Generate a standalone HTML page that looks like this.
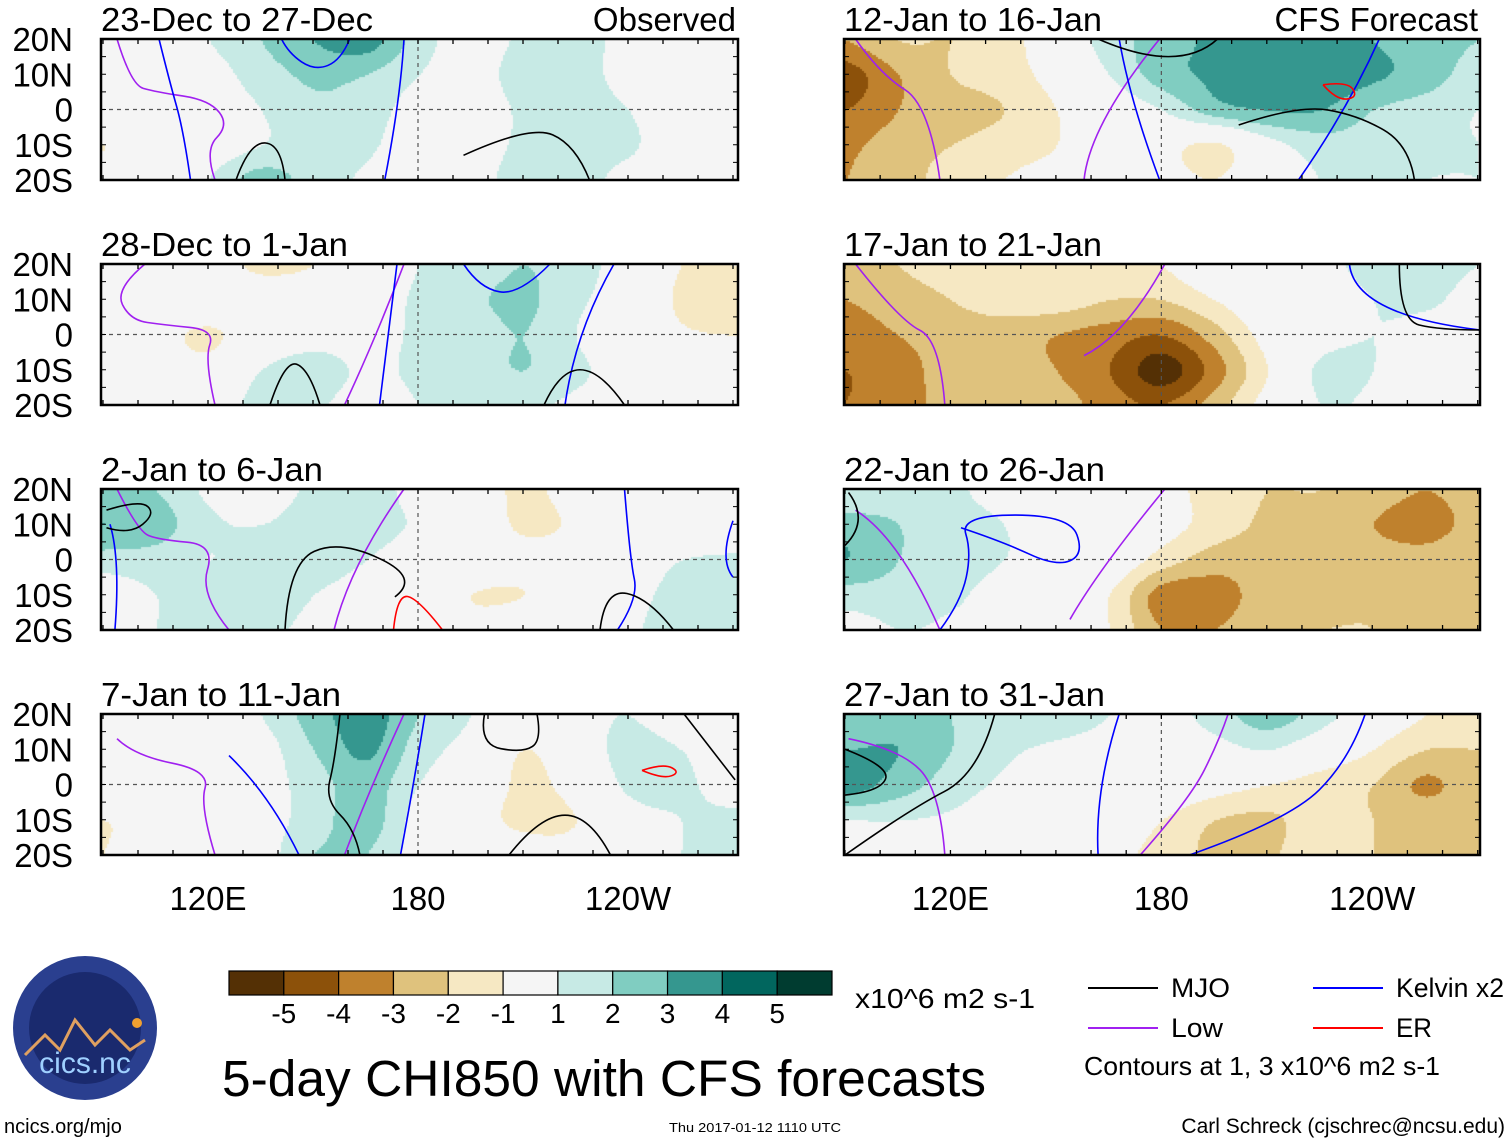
<!DOCTYPE html>
<html><head><meta charset="utf-8">
<style>
html,body{margin:0;padding:0;background:#fff;}
#wrap{position:relative;width:1510px;height:1142px;overflow:hidden;font-family:"Liberation Sans",sans-serif;}
canvas{position:absolute;}
svg{position:absolute;left:0;top:0;}
</style></head>
<body>
<div id="wrap">
<svg id="ov" width="1510" height="1142"></svg>
</div>
<script>
// ---- data ----
const lons=[90,105,120,135,150,165,180,195,210,225,240,255,270];
const lats=[20,10,0,-10,-20];
const titles=["23-Dec to 27-Dec","28-Dec to 1-Jan","2-Jan to 6-Jan","7-Jan to 11-Jan","12-Jan to 16-Jan","17-Jan to 21-Jan","22-Jan to 26-Jan","27-Jan to 31-Jan"];
const levels=[-5,-4,-3,-2,-1,1,2,3,4,5];
const levelLabels=["-5","-4","-3","-2","-1","1","2","3","4","5"];
const fieldP1=[[0,0.5,1,2,3,3.5,1.5,0.5,1.2,1.5,0.5,0,0],[0,0,0.5,1.5,2.2,2,1,0.5,1.5,1.5,0.5,0,0],[0,0,0.3,1,1.8,1.5,0.5,0.3,1.2,1.5,1,0,0],[-1,0,0.3,1,1.5,1.2,0.3,0.5,1.2,1.5,1.2,0,0],[-0.5,0,1,2.5,1.5,0.8,0,0.5,1.5,1.5,0.5,0,0]];
const fieldP2=[[0,0,-0.5,-1.2,-1,0,1,1.5,2,1.5,0.3,-1,-1],[0,0,0,-0.3,0,0.3,1.2,1.8,2.2,1.2,0.3,-1.2,-1.5],[0,-0.5,-1.2,0,0.5,0.5,1.2,1.5,2,1,0,-0.8,-1],[0,-0.3,-0.5,1,1.5,0.8,1.2,1.5,2,1.2,0.5,0,0],[0,0,0,1.5,1.2,0.5,1,1.2,1.2,0.8,0.5,0,0]];
const fieldP3=[[2,2,0.8,0.5,1.2,1.5,0.5,-0.3,-1.2,-0.5,0,0,0],[3,2.5,1.2,1,1.5,1.5,0.8,0,-1.2,-0.8,0,-0.5,0],[1.5,1.5,1,1.5,1.5,1,0.3,0,-0.5,-0.3,0,1,1.2],[0.3,1,1.5,1.5,1,0.5,0,-1,-1,0,0.5,1.5,1.5],[0,1,1.5,1.2,0.8,0.5,0,-0.5,0,0,0.8,1.5,1.2]];
const fieldP4=[[0,0,0.5,1,2.5,3.5,2,1,0,0.5,1,0,0],[0,0,0,0.5,2,3.2,1.5,0.5,-1,0,1.5,1,0],[0,-0.5,0,0.5,1.5,2.5,1,0,-1.2,-0.5,1.2,1.2,0.5],[-1,-0.5,0,0.5,1.5,2.5,0.5,-0.5,-1.2,-1,0.5,1,1.2],[-1,0,0,0.5,2,2,0.5,0,-0.5,-0.5,0.5,1,1]];
const fieldP5=[[-3,-2,-2,-1.5,0,1.5,2.5,3.2,3.5,3.5,3,2.5,2],[-4.5,-3,-2,-1.5,-0.5,1,2.5,3.2,3.5,3.8,3.2,2.5,1.5],[-4,-3,-2.5,-2,-1,0,1,2.5,3,3,2,1.5,1],[-3.2,-2.5,-2,-1.5,-1,0,-0.5,-1.2,0.5,1.5,1.5,1.2,1],[-3,-2.5,-1.5,-1,-0.5,0,-0.5,-1,0,1,1.2,1,1]];
const fieldP6=[[-2.5,-2,-1.5,-1,-1.5,-1.5,-1,0,0,0.5,1.5,1.5,1],[-3,-2.5,-2,-1.5,-1.5,-2,-2,-1,0,0,1,1.2,0.5],[-3.5,-3,-2.5,-2.5,-3,-3.5,-4,-2.5,-0.5,0.5,1,0.5,0],[-4,-3.5,-2.5,-2.5,-3,-4,-5.5,-3.5,-1,1.2,1,0.3,0],[-4,-3.5,-2.5,-2,-2.5,-3.5,-4,-2.5,-0.5,1,0.8,0.3,0]];
const fieldP7=[[1,1.5,1.2,0.5,0,0,-0.5,-1.5,-2,-2,-2.5,-3,-2.5],[2.5,2,1.5,1,0.3,0,-0.5,-1.5,-2.2,-2.5,-3,-3.5,-2.5],[3,2,1.5,1,0.5,0,-1.5,-2.5,-2.5,-2.5,-2.5,-2.5,-2],[1.5,1.5,1.2,0.5,0,-1,-3.5,-3.5,-2.5,-2.5,-2.2,-2.5,-2.5],[0.5,1,0.8,0.3,0,-1,-3,-3,-2.2,-2,-2,-2.5,-2.5]];
const fieldP8=[[2,2.5,2,1.5,1.5,1,0.5,1.5,2.5,1.5,0,-1,-1.5],[3,3,2,1.2,0.8,0.5,0,0.5,1,0,-1,-2,-2],[3.5,2.5,1.5,0.8,0.3,0,0,-0.5,-1,-1.5,-2,-3.2,-2.2],[1,1,0.8,0.3,0,0,-1,-2,-2.2,-1.5,-2,-2.2,-2.2],[0.3,0.5,0.3,0,0,-0.5,-1.5,-2.2,-2.2,-1.2,-2,-2.2,-2.5]];
const fields=[fieldP1,fieldP2,fieldP3,fieldP4,fieldP5,fieldP6,fieldP7,fieldP8];
// contour lines [lon,lat]
const mjoLines=[
 [[[193,-13],[212,-4.4],[225,-10],[229,-20]],[[128,-20],[132,-9],[141,-10],[142,-20]]],
 [[[137.7,-20],[142,-7],[149,-10],[152,-20]],[[216,-20],[220.6,-10],[232,-10],[239,-20]]],
 [[[91,14],[100.6,17],[105,13],[97.7,7],[91,9]],[[142,-20],[143,-1],[157.7,5.6],[180.6,-5.2],[173.4,-10.6]],[[232,-20],[233.4,-8.3],[246,-11],[253,-20]]],
 [[[157.7,20],[156.3,7],[153.4,-4.3],[162,-12.8],[163.4,-20]],[[199,20],[197.4,11.3],[210,9],[215.4,12.6],[214,20]],[[206,-20],[215,-8.7],[229,-8.7],[235,-20]],[[256,20],[270.6,1.3]]],
 [[[162,20],[185,10],[196,20]],[[202,-4.4],[219,1.3],[236,-1.6],[250.5,-10],[252,-20]]],
 [[[247.7,20],[247.7,4.1],[259,1.3],[270.5,1.3]]],
 [[[90,4],[97,11],[91,19]]],
 [[[90,-20],[108.5,-7],[128,3],[132.6,20]],[[90,10],[103,5],[100,-2],[90,-3]]]
];
const lowLines=[
 [[[94,20],[98,7],[105,5],[120.5,2.7],[126,-4.4],[119,-11.5],[122,-20]]],
 [[[102,20],[93.4,12.9],[97.7,4.1],[107.7,2.7],[122,1.3],[119,-7.2],[122,-20]],[[159,-20],[167.7,-1.6],[176,20]]],
 [[[94,20],[100,8],[106,5.6],[122,4.2],[117.7,-9.9],[126,-20]],[[156,-20],[160.6,-1.6],[176,20]]],
 [[[94,13],[99,8.2],[120.6,3.9],[117.7,-6],[122,-20]],[[159,-20],[166,-1.6],[176,20]]],
 [[[93,20],[100,10],[114,1.3],[117,-20]],[[158,-20],[159.6,-4.4],[179.5,20]]],
 [[[93,20],[105.6,4],[117,-1.6],[118.4,-20]],[[158,-6],[170,0],[181,20]]],
 [[[93,14],[105.6,6],[117,-20]],[[154,-17],[162,-3],[181,20]]],
 [[[91,13],[105.6,10],[117,-1.6],[118.4,-20]],[[174,-20],[188,-4.3],[196.5,12.6],[199,20]]]
];
const kelvinLines=[
 [[[106,20],[109,8],[113,-6],[115,-20]],[[141,20],[143,16],[150.5,11],[158,14],[160.5,20]],[[176,20],[175,3],[170.5,-20]]],
 [[[169,-20],[174,20]],[[193,20],[197.7,13],[209,11.2],[217.7,20]],[[222,-20],[225,1],[236,20]]],
 [[[93.4,-20],[95,0],[92,10]],[[239,20],[240.6,0],[243,-11],[237,-20]],[[270,11],[266,0],[270,-5]]],
 [[[126,8.2],[137.7,-3],[146,-20]],[[182,20],[179,1.3],[175,-20]]],
 [[[168,20],[171,2.7],[179.5,-20]],[[219,-20],[233,0],[242,20]]],
 [[[233.5,20],[235,5.6],[270.4,1.3]]],
 [[[117,-20],[123,-12],[126,2],[122.7,12.6],[154,12.6],[158,1.3],[150,-2],[135,5],[123,9]]],
 [[[162,-20],[161,-1.6],[168,20]],[[188,-20],[216.4,-10],[233.5,7],[238,20]]]
];
const erLines=[[],[],[[[173,-20],[174,-10],[180,-11],[187,-20]]],[[[244,4],[250,6],[255,3.5],[250,1.5],[244,4]]],[[[226,7],[233,8],[236,3.5],[230,2.5],[226,7]]],[],[],[]];
// ---- geometry ----
const colors=["#543005","#8c510a","#bf812d","#dfc27d","#f6e8c3","#f5f5f5","#c7eae5","#80cdc1","#35978f","#01665e","#003c30"];
const panels=[];
for(let i=0;i<8;i++){const right=i>=4;const r=i%4;
 panels.push({x0:right?844:101,x1:right?1480:738,y0:[39,264,489,714][r],h:141,ox:right?845:103,k:right?3.515:3.5,right});}
const ns="http://www.w3.org/2000/svg";const ov=document.getElementById('ov');const wrap=document.getElementById('wrap');
function el(t,a,p){const e=document.createElementNS(ns,t);for(const k in a)e.setAttribute(k,a[k]);(p||ov).appendChild(e);return e;}
function colorFor(v){let i=0;while(i<levels.length&&v>=levels[i])i++;return colors[i];}
function cr(p0,p1,p2,p3,t){return 0.5*((2*p1)+(-p0+p2)*t+(2*p0-5*p1+4*p2-p3)*t*t+(-p0+3*p1-3*p2+p3)*t*t*t);}
function sample(f,lon,lat){let fx=(lon-90)/15;fx=Math.max(0,Math.min(12,fx));let fy=(20-lat)/10;fy=Math.max(0,Math.min(4,fy));
 const i=Math.min(11,Math.floor(fx)),j=Math.min(3,Math.floor(fy));const tx=fx-i,ty=fy-j;
 const g=(jj,ii)=>f[Math.max(0,Math.min(4,jj))][Math.max(0,Math.min(12,ii))];
 const rows=[];for(let m=-1;m<=2;m++)rows.push(cr(g(j+m,i-1),g(j+m,i),g(j+m,i+1),g(j+m,i+2),tx));
 return cr(rows[0],rows[1],rows[2],rows[3],ty);}
function smoothPath(pts){if(pts.length<3)return 'M'+pts.map(q=>q.join(',')).join(' L');
 let d='M'+pts[0][0]+','+pts[0][1];
 for(let i=1;i<pts.length-1;i++){const mx=(pts[i][0]+pts[i+1][0])/2,my=(pts[i][1]+pts[i+1][1])/2;d+=' Q'+pts[i][0]+','+pts[i][1]+' '+(i==pts.length-2?pts[i+1][0]+','+pts[i+1][1]:mx+','+my);}
 return d;}
panels.forEach((p,idx)=>{
 const w=p.x1-p.x0;const c=document.createElement('canvas');c.width=w;c.height=p.h;c.style.left=p.x0+'px';c.style.top=p.y0+'px';
 
 
 wrap.insertBefore(c,ov);const ctx=c.getContext('2d');
 const lonX=x=>90+(x+p.x0-p.ox)/p.k, latY=y=>20-y/p.h*40;
 for(let y=0;y<p.h;y+=2)for(let x=0;x<w;x+=2){ctx.fillStyle=colorFor(sample(fields[idx],lonX(x),latY(y)));ctx.fillRect(x,y,2,2);}
 const X=lon=>p.ox+(lon-90)*p.k, Y=lat=>p.y0+(20-lat)/40*p.h;
 const g=el('g',{});
 el('line',{x1:X(180),x2:X(180),y1:p.y0,y2:p.y0+p.h,stroke:'#555','stroke-dasharray':'4,4','stroke-width':1.2},g);
 el('line',{x1:p.x0,x2:p.x1,y1:Y(0),y2:Y(0),stroke:'#555','stroke-dasharray':'4,4','stroke-width':1.2},g);
 const draw=(sets,col,name)=>sets[idx].forEach(l=>{const e=el('path',{d:smoothPath(l.map(q=>[X(q[0]),Y(q[1])])),fill:'none',stroke:col,'stroke-width':1.6,'stroke-linejoin':'round'},g);
  
  });
 draw(lowLines,'#a020f0','low-contour');draw(kelvinLines,'#0000ff','kelvin-contour');draw(mjoLines,'#000','mjo-contour');draw(erLines,'#ff0000','er-contour');
 el('rect',{x:p.x0,y:p.y0,width:p.x1-p.x0,height:p.h,fill:'none',stroke:'#000','stroke-width':2.5},g);
 for(let lon=90;lon<=270;lon+=10){const x=X(lon);if(x<p.x0||x>p.x1)continue;el('line',{x1:x,x2:x,y1:p.y0,y2:p.y0+5,stroke:'#000','stroke-width':1.3},g);el('line',{x1:x,x2:x,y1:p.y0+p.h,y2:p.y0+p.h-5,stroke:'#000','stroke-width':1.3},g);}
 for(let lat=-20;lat<=20;lat+=5){el('line',{x1:p.x0,x2:p.x0+5,y1:Y(lat),y2:Y(lat),stroke:'#000'},g);el('line',{x1:p.x1,x2:p.x1-5,y1:Y(lat),y2:Y(lat),stroke:'#000'},g);}
 const t=el('text',{x:p.x0,y:p.y0-8,'font-size':33,textLength:[272,247,222,240,258,258,261,261][idx],lengthAdjust:'spacingAndGlyphs'},g);t.textContent=titles[idx];
 
 
 if(idx==0){const o=el('text',{x:736,y:31,'font-size':33,'text-anchor':'end'},g);o.textContent='Observed';}
 if(idx==4){const o=el('text',{x:1478,y:31,'font-size':33,'text-anchor':'end'},g);o.textContent='CFS Forecast';}
 if(!p.right){['20N','10N','0','10S','20S'].forEach((s,k)=>{const tt=el('text',{x:73,y:Y(lats[k])+12,'font-size':33,'text-anchor':'end'},g);tt.textContent=s;});}
 if(idx==3||idx==7){['120E','180','120W'].forEach((s,k)=>{const tt=el('text',{x:X([120,180,240][k]),y:910,'font-size':33,'text-anchor':'middle'},g);tt.textContent=s;});}
});
// colorbar
const cb=el('g',{});
const bw=603/11;
colors.forEach((c,i)=>{el('rect',{x:229+i*bw,y:971,width:bw,height:24,fill:c,stroke:'#000','stroke-width':1.2},cb);});
levelLabels.forEach((s,i)=>{const t=el('text',{x:229+(i+1)*bw,y:1023,'font-size':28,'text-anchor':'middle'},cb);t.textContent=s;});
const u=el('text',{x:855,y:1008,'font-size':28,textLength:180,lengthAdjust:'spacingAndGlyphs'},cb);u.textContent='x10^6 m2 s-1';
// legend
const lg=el('g',{});
[['MJO','#000',1088,988,59],['Kelvin x2','#0000ff',1313,988,108],['Low','#a020f0',1088,1028,52],['ER','#ff0000',1313,1028,36]].forEach(a=>{
 el('line',{x1:a[2],x2:a[2]+70,y1:a[3],y2:a[3],stroke:a[1],'stroke-width':2},lg);
 const t=el('text',{x:a[2]+83,y:a[3]+9,'font-size':27,textLength:a[4],lengthAdjust:'spacingAndGlyphs'},lg);t.textContent=a[0];});
const ct=el('text',{x:1084,y:1075,'font-size':26,textLength:356,lengthAdjust:'spacingAndGlyphs'},lg);ct.textContent='Contours at 1, 3 x10^6 m2 s-1';
// titles/footer
const tt=el('text',{x:222,y:1096,'font-size':51,textLength:764,lengthAdjust:'spacingAndGlyphs',});tt.textContent='5-day CHI850 with CFS forecasts';
const f1=el('text',{x:4,y:1133,'font-size':20});f1.textContent='ncics.org/mjo';
const f2=el('text',{x:669,y:1132,'font-size':13,textLength:172,lengthAdjust:'spacingAndGlyphs'});f2.textContent='Thu 2017-01-12 1110 UTC';
const f3=el('text',{x:1505,y:1133,'font-size':21,'text-anchor':'end'});f3.textContent='Carl Schreck (cjschrec@ncsu.edu)';
// logo
const lo=el('g',{});
el('circle',{cx:85,cy:1028,r:72,fill:'#2a3f8f'},lo);
el('circle',{cx:85,cy:1028,r:56,fill:'#1a2a6e'},lo);
el('polyline',{points:'25,1055 45,1035 60,1050 75,1020 95,1045 110,1030 130,1050 145,1040',fill:'none',stroke:'#e0a060','stroke-width':3},lo);
el('circle',{cx:137,cy:1023,r:5,fill:'#f0a030'},lo);
const lt=el('text',{x:85,y:1073,'font-size':30,fill:'#9fd0ff','text-anchor':'middle'},lo);lt.textContent='cics.nc';
</script>
</body></html>
